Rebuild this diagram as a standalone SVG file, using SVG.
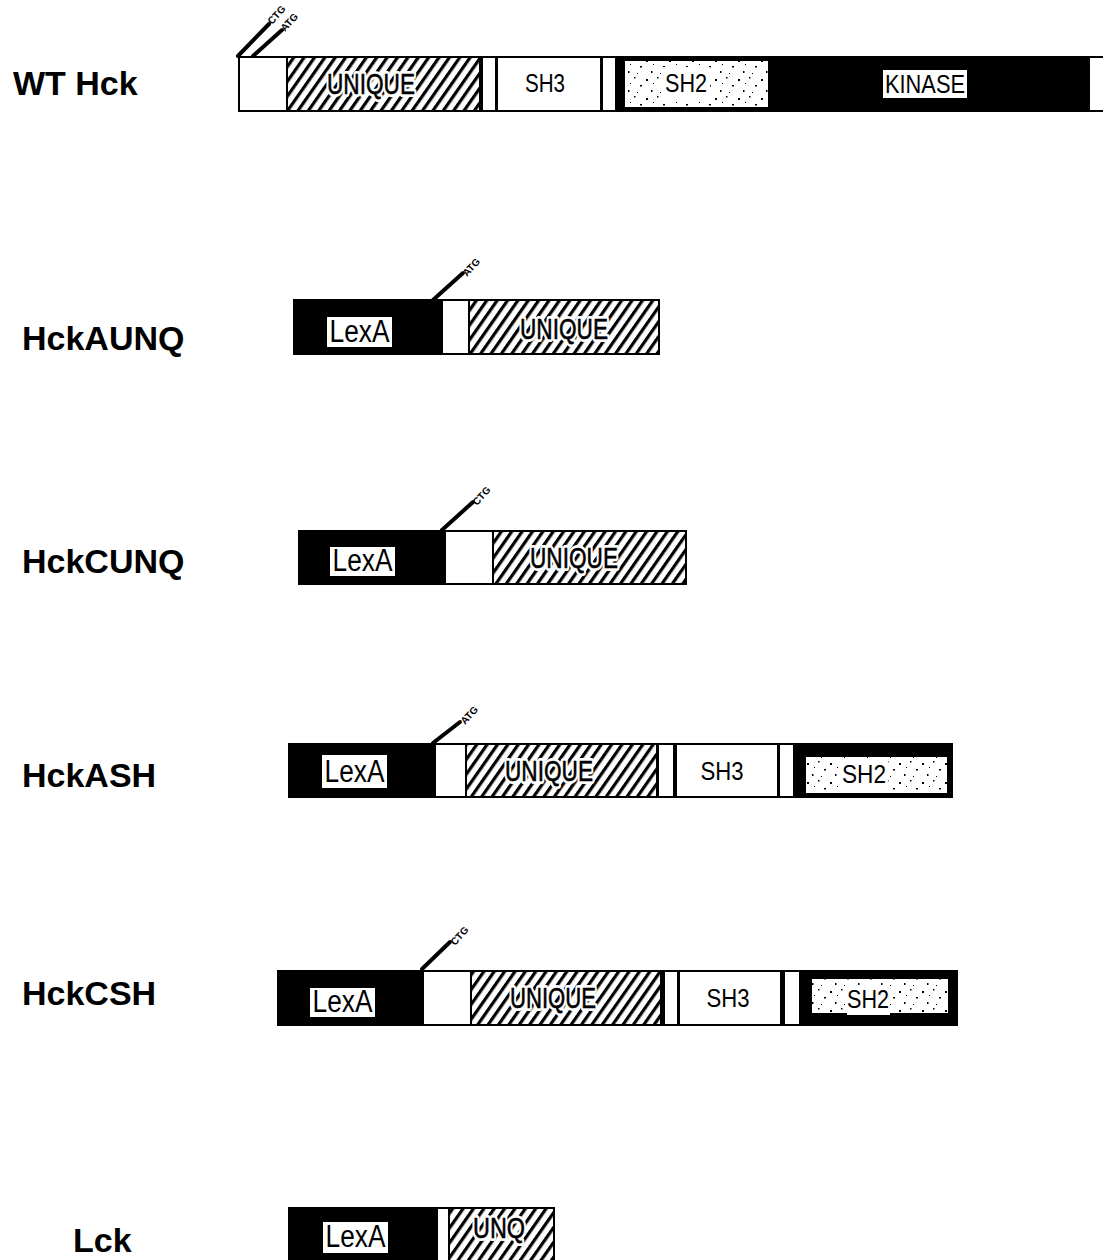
<svg xmlns="http://www.w3.org/2000/svg" width="1103" height="1260" viewBox="0 0 1103 1260">
<defs>
<pattern id="hatch" patternUnits="userSpaceOnUse" width="8.5" height="8.5" patternTransform="rotate(35)">
<rect x="0" y="0" width="8.5" height="8.5" fill="#fff"/>
<rect x="0" y="0" width="3.2" height="8.5" fill="#000"/>
</pattern>
<pattern id="speck" patternUnits="userSpaceOnUse" width="23" height="19">
<rect x="0" y="0" width="23" height="19" fill="#fff"/>
<rect x="2" y="3" width="2" height="2" fill="#000"/>
<rect x="13" y="1" width="1.5" height="1.5" fill="#000"/>
<rect x="19" y="9" width="2" height="1.5" fill="#000"/>
<rect x="7" y="14" width="1.5" height="2" fill="#000"/>
<rect x="16" y="16" width="1" height="1" fill="#000"/>
<rect x="9" y="7" width="1" height="1" fill="#000"/>
</pattern>
<style>
.lbl{font-family:"Liberation Sans",Arial,sans-serif;font-weight:bold;font-size:34px;fill:#000}
.dom{font-family:"Liberation Sans",Arial,sans-serif;font-size:26px;fill:#000;text-anchor:middle}
.hdom{font-family:"Liberation Sans",Arial,sans-serif;font-size:30px;fill:#000;text-anchor:middle;stroke:#000;stroke-width:0.6}
.halo{font-family:"Liberation Sans",Arial,sans-serif;font-size:30px;fill:#fff;text-anchor:middle;stroke:#fff;stroke-width:6;stroke-linejoin:round}
.lex{font-family:"Liberation Sans",Arial,sans-serif;font-size:31px;fill:#000;text-anchor:middle}
.site{font-family:"Liberation Sans",Arial,sans-serif;font-weight:bold;font-size:10px;fill:#000}
.bar{fill:#000}
.w{fill:#fff}
.h{fill:url(#hatch)}
.sp{fill:url(#speck)}
.mk{stroke:#000;stroke-width:4;stroke-linecap:round;fill:none}
</style>
</defs>
<rect x="0" y="0" width="1103" height="1260" fill="#fff"/>

<g id="wt-hck">
<text class="lbl" x="13" y="95">WT Hck</text>
<rect class="bar" x="238" y="56" width="875" height="56"/>
<rect class="w" x="240" y="58" width="46" height="52"/>
<rect class="h" x="288" y="58" width="191" height="52"/>
<text class="halo" x="371" y="94" textLength="88" lengthAdjust="spacingAndGlyphs">UNIQUE</text>
<text class="hdom" x="371" y="94" textLength="88" lengthAdjust="spacingAndGlyphs">UNIQUE</text>
<rect class="w" x="483" y="58" width="12" height="52"/>
<rect class="w" x="498" y="58" width="102" height="52"/>
<text class="dom" x="545" y="92" textLength="40" lengthAdjust="spacingAndGlyphs">SH3</text>
<rect class="w" x="603" y="58" width="12" height="52"/>
<rect class="sp" x="625" y="61" width="143" height="46"/>
<rect class="w" x="663" y="67" width="47" height="33"/>
<text class="dom" x="686" y="92" textLength="42" lengthAdjust="spacingAndGlyphs">SH2</text>
<rect class="w" x="883" y="70" width="84" height="28"/>
<text class="dom" x="925" y="93" textLength="80" lengthAdjust="spacingAndGlyphs">KINASE</text>
<rect class="w" x="1090" y="58" width="20" height="52"/>
</g>

<g id="hck-aunq">
<text class="lbl" x="22" y="350">HckAUNQ</text>
<rect class="bar" x="293" y="299" width="367" height="56"/>
<rect class="w" x="327" y="317" width="65" height="30"/>
<text class="lex" x="359.5" y="342" textLength="60" lengthAdjust="spacingAndGlyphs">LexA</text>
<rect class="w" x="443" y="301" width="25" height="52"/>
<rect class="h" x="470" y="301" width="188" height="52"/>
<text class="halo" x="564" y="339" textLength="88" lengthAdjust="spacingAndGlyphs">UNIQUE</text>
<text class="hdom" x="564" y="339" textLength="88" lengthAdjust="spacingAndGlyphs">UNIQUE</text>
</g>

<g id="hck-cunq">
<text class="lbl" x="22" y="573">HckCUNQ</text>
<rect class="bar" x="298" y="530" width="389" height="55"/>
<rect class="w" x="330" y="547" width="65" height="29"/>
<text class="lex" x="362.5" y="571" textLength="60" lengthAdjust="spacingAndGlyphs">LexA</text>
<rect class="w" x="446" y="532" width="46" height="51"/>
<rect class="h" x="494" y="532" width="191" height="51"/>
<text class="halo" x="574" y="568" textLength="88" lengthAdjust="spacingAndGlyphs">UNIQUE</text>
<text class="hdom" x="574" y="568" textLength="88" lengthAdjust="spacingAndGlyphs">UNIQUE</text>
</g>

<g id="hck-ash">
<text class="lbl" x="22" y="787">HckASH</text>
<rect class="bar" x="288" y="743" width="665" height="55"/>
<rect class="w" x="322" y="755" width="65" height="33"/>
<text class="lex" x="354.5" y="782" textLength="60" lengthAdjust="spacingAndGlyphs">LexA</text>
<rect class="w" x="436" y="745" width="29" height="51"/>
<rect class="h" x="467" y="745" width="189" height="51"/>
<text class="halo" x="549" y="781" textLength="88" lengthAdjust="spacingAndGlyphs">UNIQUE</text>
<text class="hdom" x="549" y="781" textLength="88" lengthAdjust="spacingAndGlyphs">UNIQUE</text>
<rect class="w" x="659" y="745" width="14" height="51"/>
<rect class="w" x="677" y="745" width="100" height="51"/>
<text class="dom" x="722" y="780" textLength="43" lengthAdjust="spacingAndGlyphs">SH3</text>
<rect class="w" x="780" y="745" width="13" height="51"/>
<rect class="sp" x="806" y="757" width="141" height="36"/>
<rect class="w" x="840" y="758" width="48" height="35"/>
<text class="dom" x="864" y="783" textLength="44" lengthAdjust="spacingAndGlyphs">SH2</text>
</g>

<g id="hck-csh">
<text class="lbl" x="22" y="1005">HckCSH</text>
<rect class="bar" x="277" y="970" width="681" height="56"/>
<rect class="w" x="310" y="988" width="65" height="29"/>
<text class="lex" x="342.5" y="1012" textLength="60" lengthAdjust="spacingAndGlyphs">LexA</text>
<rect class="w" x="424" y="972" width="46" height="52"/>
<rect class="h" x="472" y="972" width="188" height="52"/>
<text class="halo" x="553" y="1008" textLength="86" lengthAdjust="spacingAndGlyphs">UNIQUE</text>
<text class="hdom" x="553" y="1008" textLength="86" lengthAdjust="spacingAndGlyphs">UNIQUE</text>
<rect class="w" x="665" y="972" width="12" height="52"/>
<rect class="w" x="680" y="972" width="100" height="52"/>
<text class="dom" x="728" y="1007" textLength="43" lengthAdjust="spacingAndGlyphs">SH3</text>
<rect class="w" x="785" y="972" width="14" height="52"/>
<rect class="sp" x="812" y="979" width="136" height="34"/>
<rect class="w" x="847" y="985" width="43" height="30"/>
<text class="dom" x="868" y="1008" textLength="42" lengthAdjust="spacingAndGlyphs">SH2</text>
</g>

<g id="lck">
<text class="lbl" x="73" y="1252">Lck</text>
<rect class="bar" x="288" y="1207" width="267" height="60"/>
<rect class="w" x="323" y="1222" width="65" height="31"/>
<text class="lex" x="355.5" y="1247" textLength="60" lengthAdjust="spacingAndGlyphs">LexA</text>
<rect class="w" x="438" y="1209" width="10" height="55"/>
<rect class="h" x="450" y="1209" width="103" height="55"/>
<text class="halo" x="499" y="1238" textLength="52" lengthAdjust="spacingAndGlyphs">UNQ</text>
<text class="hdom" x="499" y="1238" textLength="52" lengthAdjust="spacingAndGlyphs">UNQ</text>
</g>

<g id="connectors">
<line class="mk" x1="238" y1="56" x2="269" y2="24" stroke-width="3.5"/>
<line class="mk" x1="253" y1="56" x2="282" y2="30" stroke-width="3.5"/>
<text class="site" transform="translate(272,25) rotate(-48)">CTG</text>
<text class="site" transform="translate(285,32) rotate(-48)">ATG</text>
<line class="mk" x1="433" y1="300" x2="463" y2="273"/>
<text class="site" transform="translate(467,277) rotate(-48)">ATG</text>
<line class="mk" x1="442" y1="530" x2="473" y2="502"/>
<text class="site" transform="translate(477,506) rotate(-48)">CTG</text>
<line class="mk" x1="433" y1="743" x2="460" y2="722"/>
<text class="site" transform="translate(465,725) rotate(-48)">ATG</text>
<line class="mk" x1="422" y1="969" x2="450" y2="942"/>
<text class="site" transform="translate(455,946) rotate(-48)">CTG</text>
</g>
</svg>
